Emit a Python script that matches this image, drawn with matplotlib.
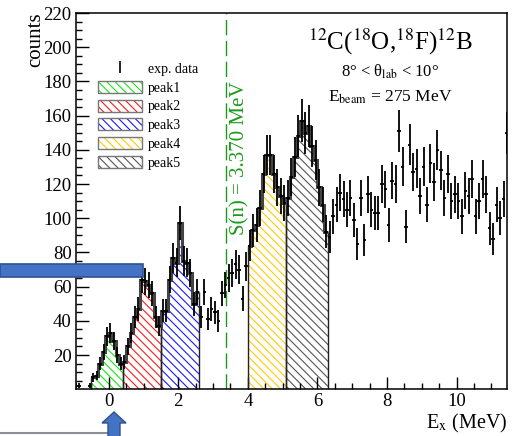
import numpy as np
import matplotlib
matplotlib.use('Agg')
import matplotlib.pyplot as plt
from matplotlib.patches import Patch, Rectangle, Polygon
from matplotlib.lines import Line2D
from matplotlib.legend_handler import HandlerBase

plt.rcParams['font.family'] = ['Liberation Serif', 'DejaVu Serif']
plt.rcParams['mathtext.fontset'] = 'stix'
plt.rcParams['hatch.linewidth'] = 0.8

# histogram: 0.1 MeV bins, first bin centre at -0.95 MeV
first_center = -0.95
bin_width = 0.1
counts = [2, 2, 0, 0, 2, 7, 8, 15, 22, 31,
          33, 28, 20, 15, 16, 25, 33, 42, 47, 64,
          63, 61, 56, 42, 37, 46, 46, 64, 77, 74,
          97, 75, 74, 68, 50, 57, 42, 57, 41, 47,
          45, 40, 56, 61, 65, 68, 73, 70, 53, 72,
          84, 93, 96, 106, 126, 137, 137, 126, 118, 113,
          109, 112, 124, 136, 148, 157, 150, 154, 142, 134,
          118, 108, 92, 89, 101, 108, 115, 111, 105, 112,
          99, 85, 112, 87, 114, 105, 103, 103, 120, 117,
          96, 122, 120, 151, 130, 95, 143, 127, 129, 113,
          130, 108, 132, 121, 140, 128, 112, 126, 110, 114,
          110, 101, 116, 113, 123, 101, 110, 123, 114, 94,
          88, 108, 100, 111, 150]

peak_names = ['peak1', 'peak2', 'peak3', 'peak4', 'peak5']
peak_lo = [-0.5, 0.4, 1.5, 4.0, 5.1]
peak_hi = [0.4, 1.5, 2.6, 5.1, 6.3]
peak_colors = ['#11ee11', '#ff1a1a', '#1a1aff', '#ffcc00', '#555555']

sn_energy = 3.370

W, H = 513, 436
HATCH = '\\\\\\\\'


def px(x, y):
    # figure pixel -> figure fraction
    return (x / W, 1 - y / H)


class HatchBox(HandlerBase):
    # hatched box in the peak colour with a grey frame
    def create_artists(self, legend, orig, xd, yd, w, h, fontsize, trans):
        r1 = Rectangle((-xd, -yd), w, h, facecolor='none', edgecolor=orig.get_edgecolor(),
                       hatch=HATCH, lw=0, transform=trans)
        r2 = Rectangle((-xd, -yd), w, h, facecolor='none', edgecolor='#777777',
                       lw=1.0, transform=trans)
        return [r1, r2]


def main():
    y = np.array(counts, dtype=float)
    centers = first_center + bin_width * np.arange(len(y))

    fig = plt.figure(figsize=(W / 100, H / 100), dpi=100)
    ax = fig.add_axes([75.7 / W, 1 - 389.2 / H, (507 - 75.7) / W, (389.2 - 13) / H])

    # hatched peak regions
    for lo, hi, col in zip(peak_lo, peak_hi, peak_colors):
        m = (centers > lo) & (centers < hi)
        e = np.append(centers[m] - bin_width / 2, centers[m][-1] + bin_width / 2)
        ax.stairs(y[m], e, fill=True, facecolor='none', edgecolor=col,
                  hatch=HATCH, linewidth=0, zorder=1)
        ax.vlines([lo, hi], 0, [y[m][0], y[m][-1]], color='#222222', lw=1.0, zorder=2)

    # thick outline of fitted regions
    for lo, hi in [(peak_lo[0], peak_hi[2]), (peak_lo[3], peak_hi[4])]:
        m = (centers > lo) & (centers < hi)
        e = np.append(centers[m] - bin_width / 2, centers[m][-1] + bin_width / 2)
        ax.stairs(y[m], e, baseline=None, color='#444444', lw=2.2, zorder=2)

    # data points
    ok = y > 0
    ax.errorbar(centers[ok], y[ok], yerr=np.sqrt(y[ok]), xerr=bin_width / 2,
                fmt='none', ecolor='black', elinewidth=1.3, zorder=3)

    # S(n) threshold
    ax.axvline(sn_energy, color='#1a9a1a', lw=1.0, dashes=(11, 4), zorder=2)
    ax.text(sn_energy + 0.4, 180, 'S(n) = 3.370 MeV', rotation=90, color='#1a9a1a',
            fontsize=15, ha='center', va='top')

    ax.set_xlim(-0.95, 11.45)
    ax.set_ylim(0, 220)
    ax.set_xticks([0, 2, 4, 6, 8, 10])
    ax.set_xticks(np.arange(-0.5, 11.5, 0.5), minor=True)
    ax.set_yticks(np.arange(20, 221, 20))
    ax.set_yticks(np.arange(5, 220, 5), minor=True)
    ax.tick_params(which='both', direction='in', top=False, right=False, labelsize=13.5)
    ax.tick_params(which='major', length=9, width=1.0)
    ax.tick_params(which='minor', length=4.5, width=1.0)
    ax.tick_params(axis='x', pad=2.5)
    ax.tick_params(axis='y', pad=3)
    for s in ax.spines.values():
        s.set_linewidth(1.1)

    ax.text(0.73, 0.923, '$^{12}$C($^{18}$O,$^{18}$F)$^{12}$B', transform=ax.transAxes,
            ha='center', va='center', fontsize=18)
    ax.text(0.73, 0.843, '8° < θ$_{\\rm lab}$ < 10°', transform=ax.transAxes,
            ha='center', va='center', fontsize=12)
    ax.text(0.73, 0.777, 'E$_{\\rm beam}$ = 275 MeV', transform=ax.transAxes,
            ha='center', va='center', fontsize=12.5)

    fig.text(*px(36, 40), 'counts', rotation=90, ha='center', va='center', fontsize=15)
    fig.text(*px(507, 423), 'E$_{\\rm x}$ (MeV)', ha='right', va='center', fontsize=14.5)

    handles = [Line2D([], [], color='black', marker='|', linestyle='none',
                      markersize=8, mew=1.2)]
    for col in peak_colors:
        handles.append(Patch(facecolor='none', edgecolor=col))
    ax.legend(handles, ['exp. data'] + peak_names, loc='upper left',
              bbox_to_anchor=px(98, 62), bbox_transform=fig.transFigure,
              frameon=False, fontsize=10, handlelength=3.15, handleheight=0.95,
              labelspacing=0.36, borderpad=0, borderaxespad=0, handletextpad=0.45,
              handler_map={Patch: HatchBox()})

    # overlay annotations (blue bar, arrow, grey line)
    fig.patches.append(Rectangle(px(0, 277), 143 / W, 13 / H, transform=fig.transFigure,
                                 facecolor='#4472c4', edgecolor='#2f528f', lw=1.2, zorder=10))
    arrow = [px(114, 412), px(126, 423), px(120, 423), px(120, 437),
             px(108, 437), px(108, 423), px(102, 423)]
    fig.patches.append(Polygon(arrow, closed=True, transform=fig.transFigure,
                               facecolor='#4472c4', edgecolor='#2f528f', lw=1.0, zorder=10))
    fig.lines.append(Line2D([0, 108 / W], [1 - 432.7 / H] * 2, transform=fig.transFigure,
                            color='#8a8f99', lw=1.5))

    fig.savefig('out.png', dpi=100)


if __name__ == '__main__':
    main()
